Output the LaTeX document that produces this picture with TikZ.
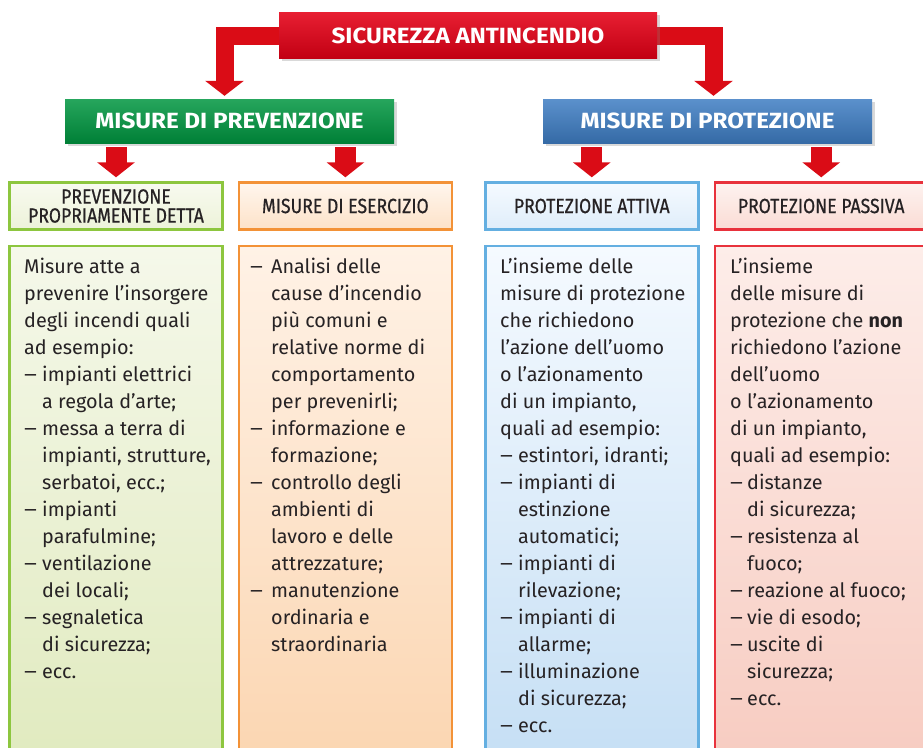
\documentclass[tikz,border=0pt]{standalone}
\usepackage{fontspec}
\setmainfont{Fira Sans}
\newfontfamily\headfont{Fira Sans}[FakeStretch=0.86,FakeBold=0.6]
\newfontfamily\titlefont{Fira Sans}[FakeStretch=1.1]
\usetikzlibrary{arrows.meta,positioning,shadows,backgrounds}

\definecolor{titlered}{RGB}{228,0,22}
\definecolor{arrowred}{RGB}{218,12,22}
\definecolor{prevgreen}{RGB}{0,150,64}
\definecolor{protblue}{RGB}{62,125,195}
\definecolor{txt}{RGB}{38,34,36}
\definecolor{lgreen}{RGB}{141,198,63}
\definecolor{lorange}{RGB}{243,146,55}
\definecolor{lblue}{RGB}{100,175,225}
\definecolor{lred}{RGB}{232,50,60}
% fills
\definecolor{gtop}{RGB}{245,248,234}\definecolor{gbot}{RGB}{224,234,190}
\definecolor{otop}{RGB}{255,242,230}\definecolor{obot}{RGB}{251,213,176}
\definecolor{btop}{RGB}{245,250,255}\definecolor{bbot}{RGB}{196,222,244}
\definecolor{rtop}{RGB}{253,237,233}\definecolor{rbot}{RGB}{247,203,192}

\newcommand\trat[1][18pt]{\makebox[#1][l]{\scalebox{1.25}[1]{–}}}
\newcommand\rien[1][18pt]{\hspace*{#1}}

\begin{document}
\begin{tikzpicture}[x=1pt,y=-1pt,
    main node/.style={rectangle,minimum height=46pt,inner sep=0pt,text=white,
      font=\titlefont\fontsize{22}{24}\selectfont\bfseries,drop shadow={opacity=0.3}},
    head node/.style={rectangle,draw=#1,line width=2.4pt,minimum width=213pt,
      minimum height=47pt,inner sep=0pt,text=txt,align=center,
      font=\headfont\fontsize{20.5}{19}\selectfont},
    body node/.style={rectangle,draw=#1,line width=2.4pt,minimum width=213pt,
      minimum height=530pt,inner sep=0pt},
    body text/.style={anchor=north west,inner sep=0pt,align=left,text=txt,
      font=\fontsize{19.8}{27}\selectfont},
    big arrow/.style={draw=arrowred,line width=18pt,line join=miter,
      -{Triangle[width=38pt,length=15pt]},shorten >=3pt},
    small arrow/.style={draw=arrowred,line width=21pt,
      -{Triangle[width=37pt,length=15pt]},shorten <=4pt,shorten >=4pt}]

  \useasboundingbox (0,0) rectangle (923,747);
  \clip (0,0) rectangle (923,747);

  % top level
  \node[main node,minimum width=378pt,top color=titlered!88!white,
        middle color=titlered,bottom color=titlered!85!black] (sic) at (468,35.5)
        {SICUREZZA ANTINCENDIO};
  \node[main node,minimum width=329pt,minimum height=44pt,top color=prevgreen!85!white,
        middle color=prevgreen,bottom color=prevgreen!85!black] (prev) at (229.5,121)
        {MISURE DI PREVENZIONE};
  \node[main node,minimum width=329pt,minimum height=44pt,top color=protblue!85!white,
        middle color=protblue,bottom color=protblue!85!black] (prot) at (707.5,121)
        {MISURE DI PROTEZIONE};

  % headers
  \node[head node=lgreen,top color=gtop!70!white,bottom color=gtop!60!gbot] (h1)
        at (116,206) {PREVENZIONE\\[0pt]PROPRIAMENTE DETTA};
  \node[head node=lorange,top color=otop!70!white,bottom color=otop!45!obot,right=14pt of h1] (h2)
        {MISURE DI ESERCIZIO};
  \node[head node=lblue,top color=btop,bottom color=btop!55!bbot,right=31pt of h2] (h3)
        {PROTEZIONE ATTIVA};
  \node[head node=lred,top color=rtop!70!white,bottom color=rtop!50!rbot,right=14pt of h3] (h4)
        {PROTEZIONE PASSIVA};

  % bodies
  \node[body node=lgreen,top color=gtop,bottom color=gbot,below=14pt of h1] (b1) {};
  \node[body node=lorange,top color=otop,bottom color=obot,below=14pt of h2] (b2) {};
  \node[body node=lblue,top color=btop,bottom color=bbot,below=14pt of h3] (b3) {};
  \node[body node=lred,top color=rtop,bottom color=rbot,below=14pt of h4] (b4) {};

  \node[body text] (t1) at (24,254) {\strut Misure atte a\\
    prevenire l’insorgere\\
    degli incendi quali\\
    ad esempio:\\
    \trat impianti elettrici\\
    \rien a regola d’arte;\\
    \trat messa a terra di\\
    \rien impianti, strutture,\\
    \rien serbatoi, ecc.;\\
    \trat impianti\\
    \rien parafulmine;\\
    \trat ventilazione\\
    \rien dei locali;\\
    \trat segnaletica\\
    \rien di sicurezza;\\
    \trat ecc.};
  \node[body text] (t2) at (250,254) {\strut\trat[21pt]Analisi delle\\
    \rien[21pt]cause d’incendio\\
    \rien[21pt]più comuni e\\
    \rien[21pt]relative norme di\\
    \rien[21pt]comportamento\\
    \rien[21pt]per prevenirli;\\
    \trat[21pt]informazione e\\
    \rien[21pt]formazione;\\
    \trat[21pt]controllo degli\\
    \rien[21pt]ambienti di\\
    \rien[21pt]lavoro e delle\\
    \rien[21pt]attrezzature;\\
    \trat[21pt]manutenzione\\
    \rien[21pt]ordinaria e\\
    \rien[21pt]straordinaria};
  \node[body text] (t3) at (500,254) {\strut L’insieme delle\\
    misure di protezione\\
    che richiedono\\
    l’azione dell’uomo\\
    o l’azionamento\\
    di un impianto,\\
    quali ad esempio:\\
    \trat estintori, idranti;\\
    \trat impianti di\\
    \rien estinzione\\
    \rien automatici;\\
    \trat impianti di\\
    \rien rilevazione;\\
    \trat impianti di\\
    \rien allarme;\\
    \trat illuminazione\\
    \rien di sicurezza;\\
    \trat ecc.};
  \node[body text] (t4) at (730,254) {\strut L’insieme\\
    delle misure di\\
    protezione che \textbf{non}\\
    richiedono l’azione\\
    dell’uomo\\
    o l’azionamento\\
    di un impianto,\\
    quali ad esempio:\\
    \trat[17pt]distanze\\
    \rien[17pt]di sicurezza;\\
    \trat[17pt]resistenza al\\
    \rien[17pt]fuoco;\\
    \trat[17pt]reazione al fuoco;\\
    \trat[17pt]vie di esodo;\\
    \trat[17pt]uscite di\\
    \rien[17pt]sicurezza;\\
    \trat[17pt]ecc.};

  % arrows
  \begin{scope}[on background layer]
    \draw[big arrow] (sic.west) -| ([xshift=-5pt]prev.north);
    \draw[big arrow] (sic.east) -| ([xshift=6pt]prot.north);
  \end{scope}
  \draw[small arrow] (prev.south -| h1.north) -- (h1.north);
  \draw[small arrow] (prev.south -| h2.north) -- (h2.north);
  \draw[small arrow] (prot.south -| h3.north) -- (h3.north);
  \draw[small arrow] (prot.south -| h4.north) -- (h4.north);
\end{tikzpicture}
\end{document}
